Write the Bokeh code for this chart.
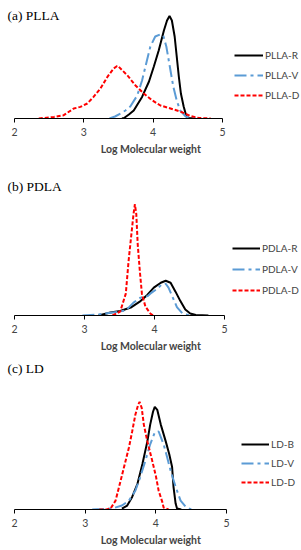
from bokeh.plotting import figure
from bokeh.models import Range1d, FixedTicker, Legend, LegendItem
from bokeh.layouts import column
from bokeh.core.properties import value
from bokeh.embed import file_html
from bokeh.resources import INLINE

# ---------------- data (relative intensity, arbitrary units) ----------------
ticks = [2, 3, 4, 5]
xlabel = "Log Molecular weight"

# (a) PLLA
plla_r_x = [3.55, 3.58, 3.65, 3.72, 3.84, 3.94, 4.01, 4.08, 4.155, 4.20, 4.236, 4.27, 4.31, 4.34, 4.37, 4.40, 4.44, 4.48, 4.51, 4.60]
plla_r_y = [0, 0.5, 4, 8, 21.6, 37, 52, 68, 88, 98, 102.6, 98, 82, 62, 42, 25, 12, 2, 0.5, 0]
plla_v_x = [3.37, 3.45, 3.53, 3.60, 3.67, 3.77, 3.84, 3.91, 3.96, 4.03, 4.10, 4.145, 4.19, 4.24, 4.29, 4.34, 4.39, 4.47, 4.55, 4.68]
plla_v_y = [0, 2, 5, 8, 12, 23, 38, 58, 72, 82, 84, 83, 72, 52, 32, 18, 8, 2, 0.5, 0]
plla_d_x = [2.35, 2.57, 2.71, 2.855, 2.95, 3.05, 3.14, 3.24, 3.34, 3.43, 3.48, 3.50, 3.63, 3.745, 3.865, 3.99, 4.105, 4.25, 4.39, 4.54, 4.66, 4.83]
plla_d_y = [0, 1.6, 3.3, 10, 11.6, 15, 21.6, 30, 41.6, 50, 52.5, 52, 43, 33, 25, 18, 13, 10, 7, 2.5, 0.5, 0]

# (b) PDLA
pdla_r_x = [3.20, 3.37, 3.51, 3.66, 3.80, 3.90, 3.99, 4.09, 4.16, 4.23, 4.30, 4.37, 4.44, 4.51, 4.59, 4.77]
pdla_r_y = [0, 3, 4.5, 8, 14.5, 21, 28, 33, 35, 33, 24, 14.5, 6, 2, 0.5, 0]
pdla_v_x = [2.97, 3.20, 3.40, 3.51, 3.59, 3.70, 3.80, 3.90, 3.94, 4.04, 4.10, 4.16, 4.20, 4.25, 4.32, 4.40, 4.48, 4.55]
pdla_v_y = [0, 1, 3, 4, 5, 13, 18, 19.5, 22, 27, 31, 32, 28, 20, 8.5, 2, 0.5, 0]
pdla_d_x = [3.40, 3.51, 3.59, 3.63, 3.67, 3.70, 3.72, 3.74, 3.76, 3.79, 3.82, 3.87, 3.94, 3.98]
pdla_d_y = [0, 4, 22, 55, 82, 102, 112, 102, 72, 45, 22, 9, 2, 0]

# (c) LD
ld_b_x = [3.52, 3.595, 3.665, 3.74, 3.81, 3.88, 3.92, 3.96, 3.985, 4.02, 4.07, 4.14, 4.19, 4.23, 4.25, 4.28, 4.30, 4.36]
ld_b_y = [1, 4, 12.7, 26, 46, 69, 86, 99, 104, 101, 86, 69, 56, 43, 23, 6, 1, 0]
ld_v_x = [3.10, 3.25, 3.38, 3.52, 3.62, 3.71, 3.78, 3.85, 3.92, 3.985, 4.04, 4.11, 4.16, 4.21, 4.28, 4.35, 4.42, 4.50]
ld_v_y = [0, 0.5, 1, 4, 9, 19, 33, 49, 66, 78, 79, 66, 53, 39, 23, 9, 3, 0]
ld_d_x = [3.20, 3.30, 3.36, 3.43, 3.48, 3.55, 3.62, 3.665, 3.71, 3.75, 3.77, 3.80, 3.83, 3.88, 3.95, 4.00, 4.04, 4.09, 4.11, 4.18]
ld_d_y = [0, 0, 1, 9, 23, 43, 63, 79, 96, 106, 109, 103, 86, 69, 49, 34, 19, 8, 2, 0]

panels = [
    dict(title="(a) PLLA", names=["PLLA-R", "PLLA-V", "PLLA-D"],
         series=[(plla_r_x, plla_r_y), (plla_v_x, plla_v_y), (plla_d_x, plla_d_y)]),
    dict(title="(b) PDLA", names=["PDLA-R", "PDLA-V", "PDLA-D"],
         series=[(pdla_r_x, pdla_r_y), (pdla_v_x, pdla_v_y), (pdla_d_x, pdla_d_y)]),
    dict(title="(c) LD", names=["LD-B", "LD-V", "LD-D"],
         series=[(ld_b_x, ld_b_y), (ld_v_x, ld_v_y), (ld_d_x, ld_d_y)]),
]

# ---------------- layout / style ----------------
W = 301
layout_specs = [
    dict(frame_h=118, border=50, s=69.33, leg=(234, 16), gw=29, sp=6, ty=15),
    dict(frame_h=148, border=38, s=70.0, leg=(232, 18), gw=28, sp=7, ty=18),
    dict(frame_h=157, border=37, s=70.67, leg=(241, 20), gw=28, sp=5, ty=14),
]
styles = [
    dict(line_color="black", line_width=2, line_dash="solid"),
    dict(line_color="#5B9BD5", line_width=2, line_dash="12 4 3 4"),
    dict(line_color="#FF0000", line_width=2, line_dash="4 2"),
]
SANS = "Lato"

figs = []
for pan, spec in zip(panels, layout_specs):
    s = spec["s"]
    x0 = 2 - 14 / s
    x1 = x0 + W / s
    fh = spec["frame_h"]
    p = figure(width=W, height=fh + spec["border"], output_backend="svg",
               toolbar_location=None, y_axis_location=None,
               x_range=Range1d(x0, x1), y_range=Range1d(0, fh),
               min_border_left=0, min_border_right=0, min_border_top=0,
               min_border_bottom=spec["border"])
    p.outline_line_color = None
    p.xgrid.visible = False
    p.ygrid.visible = False
    p.background_fill_color = "white"
    p.border_fill_color = "white"

    ax = p.xaxis[0]
    ax.bounds = (2, 5)
    ax.ticker = FixedTicker(ticks=ticks)
    ax.minor_tick_line_color = None
    ax.major_tick_in = 0
    ax.major_tick_out = 4
    ax.major_label_standoff = 5
    ax.axis_label = xlabel
    ax.axis_label_standoff = 4
    ax.axis_label_text_font = SANS
    ax.axis_label_text_font_style = "bold"
    ax.axis_label_text_font_size = "10.5px"
    ax.major_label_text_font = SANS
    ax.major_label_text_font_size = "10.5px"
    ax.axis_line_color = "black"
    ax.major_tick_line_color = "black"

    items = []
    for name, (xs, ys), st in zip(pan["names"], pan["series"], styles):
        r = p.line(xs, ys, **st)
        items.append(LegendItem(label=name, renderers=[r]))

    p.text(x=[x0 + 7 / s], y=[fh - spec["ty"]], text=[pan["title"]],
           text_font=value("Liberation Serif"), text_font_size="13.5px",
           text_font_style="normal",
           text_baseline="middle", text_align="left", text_color="black")

    leg = Legend(items=items, location=spec["leg"], orientation="vertical",
                 glyph_width=spec["gw"], glyph_height=14, label_height=14,
                 label_standoff=2, spacing=spec["sp"], padding=0, margin=0,
                 border_line_color=None, background_fill_alpha=0,
                 label_text_font=SANS, label_text_font_size="10px")
    p.add_layout(leg, "center")
    figs.append(p)

layout = column(*figs, spacing=0)
open("out.html", "w").write(file_html(layout, INLINE))
